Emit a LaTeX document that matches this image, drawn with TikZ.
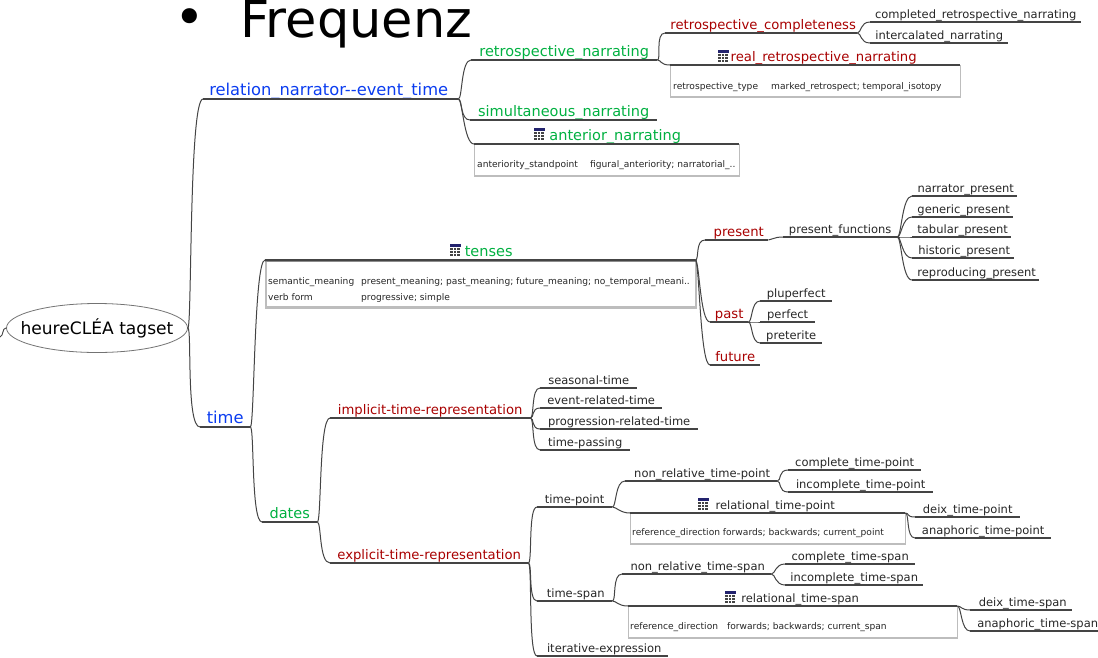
\documentclass[tikz,border=0pt]{standalone}
\usepackage{fontspec}
\setmainfont{DejaVu Sans}
\usetikzlibrary{shapes.geometric}

\definecolor{nodeblue}{HTML}{0A3CF0}
\definecolor{nodegreen}{HTML}{00B040}
\definecolor{nodered}{HTML}{A80000}
\definecolor{linegray}{HTML}{444444}
\definecolor{boxgray}{HTML}{BDBDBD}
\definecolor{iconnavy}{HTML}{23236E}

\tikzset{
    topicNode/.style={inner xsep=0pt, inner ysep=1pt, text height=10pt, text depth=2pt, anchor=south west, align=center,
        append after command={(\tikzlastnode.south west) edge[draw=linegray, line width=1.2pt] (\tikzlastnode.south east)}},
    blueNode/.style={topicNode, text=nodeblue, font=\fontsize{16.3}{18}\selectfont},
    greenNode/.style={topicNode, text=nodegreen, font=\fontsize{14.5}{16}\selectfont},
    redNode/.style={topicNode, text=nodered, font=\fontsize{13.2}{16}\selectfont},
    leafNode/.style={topicNode, text=black!85, font=\fontsize{11.5}{14}\selectfont},
    boxNode/.style={draw=boxgray, line width=.8pt, anchor=north west, inner sep=0pt,
        append after command={(\tikzlastnode.south west) edge[draw=boxgray, line width=2pt] (\tikzlastnode.south east)}},
    tensesBox/.style={boxNode, line width=1.6pt,
        append after command={(\tikzlastnode.north west) edge[draw=black!45, line width=3pt] (\tikzlastnode.north east)}},
    cellNode/.style={anchor=west, inner sep=0pt, text=black!85, text height=7pt, text depth=2pt, font=\fontsize{9.1}{10}\selectfont},
    branch/.style={out=0, in=180, out distance=4pt, draw=linegray, line width=1pt},
    tableicon/.pic={
        \fill[iconnavy] (-5.5,-6) rectangle (5.5,-3);
        \foreach \i in {-5,-1.5,2}
            \foreach \j in {-2,1,4}
                \fill[linegray] (\i,\j) rectangle ++(2.8,1.9);
    }
}

\begin{document}
\begin{tikzpicture}[x=1pt, y=-1pt]
    \useasboundingbox (0,0) rectangle (1098,657);

    % slide text behind the map
    \node [anchor=base, inner sep=0pt, font=\fontsize{52}{52}\selectfont] (bullet) at (190,35) {•};
    \node [anchor=base west, inner sep=0pt, font=\fontsize{51}{52}\selectfont] (frequenz) at (240,37) {Frequenz};

    % root
    \node [ellipse, draw=black!55, line width=.8pt, minimum width=181pt, minimum height=49pt, inner sep=0pt,
        font=\fontsize{17.1}{18}\selectfont] (root) at (97,328) {\makebox[0pt][c]{heureCLÉA tagset}};
    \coordinate (stub) at (0,337);

    % upper half
    \node [blueNode, minimum width=255pt] (relation) at (203,99) {relation\_narrator-{}-event\_time\hspace*{4pt}};
    \node [greenNode, minimum width=186pt] (retro) at (471,60) {retrospective\_narrating};
    \node [redNode, minimum width=192pt] (completeness) at (665,33) {\hspace*{4pt}retrospective\_completeness};
    \node [leafNode, minimum width=211pt] (completed) at (870,22) {completed\_retrospective\_narrating};
    \node [leafNode, minimum width=138pt] (intercalated) at (870,43) {intercalated\_narrating};
    \node [boxNode, minimum width=290pt, minimum height=31pt] (realbox) at (670,65) {};
    \node [redNode, minimum width=290pt] (real) at (670,65) {\hspace{17pt}real\_retrospective\_narrating};
    \node [cellNode] (realkey) at (673,86.5) {retrospective\_type};
    \node [cellNode] (realval) at (771,86.5) {marked\_retrospect; temporal\_isotopy};
    \node [greenNode, minimum width=187pt] (simultaneous) at (470,120) {simultaneous\_narrating};
    \node [boxNode, minimum width=265pt, minimum height=31pt] (anteriorbox) at (474,144) {};
    \node [greenNode, minimum width=265pt] (anterior) at (474,144) {\hspace{17pt}anterior\_narrating};
    \node [cellNode] (anteriorkey) at (477,165) {anteriority\_standpoint};
    \node [cellNode] (anteriorval) at (590,165) {figural\_anteriority; narratorial\_..};

    % tenses
    \node [blueNode, minimum width=50pt] (time) at (200,427) {time};
    \node [tensesBox, minimum width=430pt, minimum height=46pt] (tensesbox) at (265,260) {};
    \node [greenNode, minimum width=430pt] (tenses) at (265,260) {\hspace{17pt}tenses};
    \node [cellNode] (meaningkey) at (268,282) {semantic\_meaning};
    \node [cellNode] (meaningval) at (361,282) {present\_meaning; past\_meaning; future\_meaning; no\_temporal\_meani..};
    \node [cellNode] (formkey) at (268,298) {verb form};
    \node [cellNode] (formval) at (361,298) {progressive; simple};
    \node [redNode, minimum width=63pt] (present) at (705,240) {\hspace*{4pt}present};
    \node [leafNode, minimum width=114pt] (functions) at (783,237) {present\_functions};
    \node [leafNode, minimum width=105pt] (narrator) at (912,196) {\hspace*{2pt}narrator\_present};
    \node [leafNode, minimum width=101pt] (generic) at (912,217) {\hspace*{2pt}generic\_present};
    \node [leafNode, minimum width=99pt] (tabular) at (912,237) {\hspace*{2pt}tabular\_present};
    \node [leafNode, minimum width=102pt] (historic) at (912,258) {\hspace*{2pt}historic\_present};
    \node [leafNode, minimum width=127pt] (reproducing) at (912,280) {\hspace*{2pt}reproducing\_present};
    \node [redNode, minimum width=38pt] (past) at (710,322) {past};
    \node [leafNode, minimum width=72pt] (pluperfect) at (760,301) {pluperfect};
    \node [leafNode, minimum width=55pt] (perfect) at (760,322) {perfect};
    \node [leafNode, minimum width=62pt] (preterite) at (760,343) {preterite};
    \node [redNode, minimum width=50pt] (future) at (710,365) {future};

    % dates
    \node [greenNode, minimum width=55pt] (dates) at (262,522) {dates};
    \node [redNode, minimum width=200pt] (implicit) at (330,418) {implicit-time-representation};
    \node [leafNode, minimum width=97pt] (seasonal) at (540,388) {seasonal-time};
    \node [leafNode, minimum width=122pt] (event) at (540,408) {event-related-time};
    \node [leafNode, minimum width=158pt] (progression) at (540,429) {progression-related-time};
    \node [leafNode, minimum width=90pt] (passing) at (540,450) {time-passing};
    \node [redNode, minimum width=198pt] (explicit) at (330,563) {explicit-time-representation};
    \node [leafNode, minimum width=75pt] (timepoint) at (537,507) {time-point};
    \node [leafNode, minimum width=152pt] (nonpoint) at (625,481) {\hspace*{2pt}non\_relative\_time-point};
    \node [leafNode, minimum width=133pt] (completepoint) at (788,470) {complete\_time-point};
    \node [leafNode, minimum width=145pt] (incompletepoint) at (788,492) {incomplete\_time-point};
    \node [boxNode, minimum width=275pt, minimum height=30pt] (relpointbox) at (630,513) {};
    \node [leafNode, minimum width=275pt] (relpoint) at (630,513) {\hspace{15pt}relational\_time-point};
    \node [cellNode] (relpointkey) at (632,533) {reference\_direction forwards; backwards; current\_point};
    \node [leafNode, minimum width=105pt] (deixpoint) at (915,517) {deix\_time-point};
    \node [leafNode, minimum width=136pt] (anaphpoint) at (915,538) {anaphoric\_time-point};
    \node [leafNode, minimum width=75pt] (timespan) at (537,601) {\hspace*{2pt}time-span};
    \node [leafNode, minimum width=149pt] (nonspan) at (622,574) {\hspace*{2pt}non\_relative\_time-span};
    \node [leafNode, minimum width=130pt] (completespan) at (785,564) {complete\_time-span};
    \node [leafNode, minimum width=138pt] (incompletespan) at (785,585) {incomplete\_time-span};
    \node [boxNode, minimum width=329pt, minimum height=31pt] (relspanbox) at (628,606) {};
    \node [leafNode, minimum width=329pt] (relspan) at (628,606) {\hspace{15pt}relational\_time-span};
    \node [cellNode] (relspankey) at (630,627) {reference\_direction};
    \node [cellNode] (relspanval) at (727,627) {forwards; backwards; current\_span};
    \node [leafNode, minimum width=102pt] (deixspan) at (970,610) {\hspace*{3pt}deix\_time-span};
    \node [leafNode, minimum width=130pt] (anaphspan) at (970,631) {\hspace*{5pt}anaphoric\_time-span};
    \node [leafNode, minimum width=131pt] (iterative) at (537,656) {\hspace*{3pt}iterative-expression};

    % icons
    \pic at (723,56) {tableicon};
    \pic at (539,134) {tableicon};
    \pic at (455,250) {tableicon};
    \pic at (703,504) {tableicon};
    \pic at (730,597) {tableicon};

    % connectors
    \draw [line width=.9pt, draw=linegray] (root.west) to[out=180, in=20] (stub);
    \path [branch, in distance=14pt] (root.east) edge (relation.south west) edge (time.south west);
    \path [branch, in distance=10pt] (relation.south east) edge (retro.south west) edge (simultaneous.south west) edge (anterior.south west);
    \path [branch, in distance=10pt] (retro.south east) edge (completeness.south west) edge (real.south west);
    \path [branch, in distance=10pt] (completeness.south east) edge (completed.south west) edge (intercalated.south west);
    \path [branch, in distance=11pt] (time.south east) edge (tenses.south west) edge (dates.south west);
    \path [branch, in distance=10pt] (tenses.south east) edge (present.south west) edge (past.south west) edge (future.south west);
    \path [branch, in distance=10pt] (present.south east) edge (functions.south west);
    \path [branch, in distance=10pt] (functions.south east) edge (narrator.south west) edge (generic.south west) edge (tabular.south west) edge (historic.south west) edge (reproducing.south west);
    \path [branch, in distance=9pt] (past.south east) edge (pluperfect.south west) edge (perfect.south west) edge (preterite.south west);
    \path [branch, in distance=11pt] (dates.south east) edge (implicit.south west) edge (explicit.south west);
    \path [branch, in distance=9pt] (implicit.south east) edge (seasonal.south west) edge (event.south west) edge (progression.south west) edge (passing.south west);
    \path [branch, in distance=9pt] (explicit.south east) edge (timepoint.south west) edge (timespan.south west) edge (iterative.south west);
    \path [branch, in distance=10pt] (timepoint.south east) edge (nonpoint.south west) edge (relpoint.south west);
    \path [branch, in distance=10pt] (nonpoint.south east) edge (completepoint.south west) edge (incompletepoint.south west);
    \path [branch, in distance=9pt] (relpoint.south east) edge (deixpoint.south west) edge (anaphpoint.south west);
    \path [branch, in distance=10pt] (timespan.south east) edge (nonspan.south west) edge (relspan.south west);
    \path [branch, in distance=10pt] (nonspan.south east) edge (completespan.south west) edge (incompletespan.south west);
    \path [branch, in distance=9pt] (relspan.south east) edge (deixspan.south west) edge (anaphspan.south west);
\end{tikzpicture}
\end{document}
